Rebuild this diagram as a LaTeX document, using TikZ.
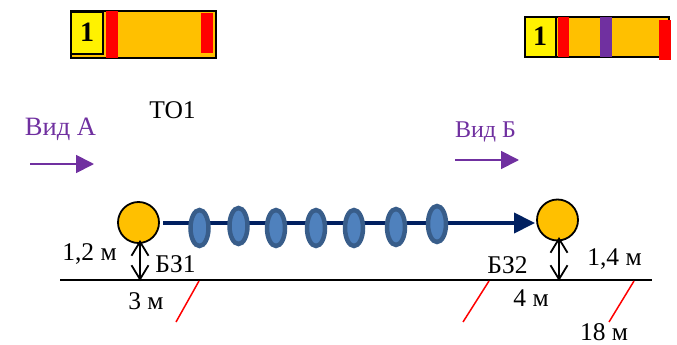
\documentclass[tikz,border=0pt]{standalone}
\usepackage{fontspec}
\setmainfont{Liberation Serif}
\usetikzlibrary{arrows.meta,shapes.geometric}
\definecolor{orng}{HTML}{FFC000}
\definecolor{purp}{HTML}{7030A0}
\definecolor{navy}{HTML}{002060}
\definecolor{ovalfill}{HTML}{4F81BD}
\definecolor{ovaldraw}{HTML}{385D8A}
\tikzset{
  x=1pt,y=-1pt,
  lbl/.style={inner sep=0pt,font=\fontsize{25.5}{25.5}\selectfont,text=black},
  viewlbl/.style={inner sep=0pt,text=purp},
  numlbl/.style={inner sep=0pt,font=\fontsize{28}{28}\selectfont\bfseries},
  ball/.style={circle,draw=black,line width=1.8pt,fill=orng,minimum size=41pt,inner sep=0pt},
  oval/.style={ellipse,draw=ovaldraw,line width=4.5pt,fill=ovalfill,minimum width=18pt,minimum height=36pt,inner sep=0pt},
  viewarrow/.style={draw=purp,line width=1.8pt,-{Triangle[length=18pt,width=18pt,fill=purp]}},
  gap/.style={black,line width=1.8pt,{Straight Barb[length=14pt,width=17pt,line width=1.8pt]}-{Straight Barb[length=14pt,width=17pt,line width=1.8pt]}},
  redline/.style={red,line width=1.5pt},
}
\begin{document}
\begin{tikzpicture}
\useasboundingbox (0,0) rectangle (677,345);
% left unit
\fill[orng,draw=black,line width=2pt] (71,11) rectangle (216,58);
\fill[yellow,draw=black,line width=1.5pt] (71,12) rectangle (103,54);
\fill[red] (106,11) rectangle (118,58);
\fill[red] (201,13) rectangle (213,53);
\node[numlbl] (numA) at (87,32) {1};
% right unit
\fill[orng,draw=black,line width=2pt] (525,17) rectangle (669,57);
\fill[yellow,draw=black,line width=1.5pt] (525,17) rectangle (556,57);
\fill[red] (558,17) rectangle (569,57);
\fill[purp] (600,17) rectangle (612,57);
\fill[red] (659,20) rectangle (671,60);
\node[numlbl] (numB) at (540,36) {1};
% texts
\node[lbl] (to) at (172.5,110) {ТО1};
\node[viewlbl,font=\fontsize{26.5}{26.5}\selectfont] (viewA) at (60.5,129) {Вид А};
\node[viewlbl,font=\fontsize{24}{24}\selectfont] (viewB) at (485.5,132) {Вид Б};
% view arrows
\coordinate (a1) at (30,164); \coordinate (a2) at (94,164);
\coordinate (b1) at (455,160); \coordinate (b2) at (519,160);
\draw[viewarrow] (a1) -- (a2);
\draw[viewarrow] (b1) -- (b2);
% wire
\node[ball] (ballL) at (138.5,222.5) {};
\node[ball] (ballR) at (557.5,220) {};
\coordinate (wireS) at (163,223); \coordinate (wireE) at (535,223);
\draw[navy,line width=4pt,-{Triangle[length=21pt,width=20pt,fill=navy]}] (wireS) -- (wireE);
\node[oval] (o1) at (199.5,228) {};
\node[oval] (o2) at (238.5,226) {};
\node[oval] (o3) at (276,228) {};
\node[oval] (o4) at (316,228) {};
\node[oval] (o5) at (354,228) {};
\node[oval] (o6) at (396,227) {};
\node[oval] (o7) at (437,224) {};
% ground
\coordinate (g1) at (60,280); \coordinate (g2) at (652,280);
\draw[black,line width=1.8pt] (g1) -- (g2);
\coordinate (dL1) at (140,240); \coordinate (dL2) at (140,281);
\coordinate (dR1) at (559,237); \coordinate (dR2) at (559,281);
\draw[gap] (dL1) -- (dL2);
\draw[gap] (dR1) -- (dR2);
% red ticks
\coordinate (r1a) at (199,281); \coordinate (r1b) at (176,322);
\coordinate (r2a) at (489,281); \coordinate (r2b) at (463,322);
\coordinate (r3a) at (634,281); \coordinate (r3b) at (609,322);
\draw[redline] (r1a) -- (r1b);
\draw[redline] (r2a) -- (r2b);
\draw[redline] (r3a) -- (r3b);
% labels
\node[lbl] (h1) at (89.5,254) {1,2 м};
\node[lbl] (bz1) at (175.5,264) {БЗ1};
\node[lbl] (d3) at (146,301) {3 м};
\node[lbl] (bz2) at (507.5,265) {БЗ2};
\node[lbl] (d4) at (531,298) {4 м};
\node[lbl] (h2) at (614.5,259) {1,4 м};
\node[lbl] (d18) at (604,332) {18 м};
\end{tikzpicture}
\end{document}
